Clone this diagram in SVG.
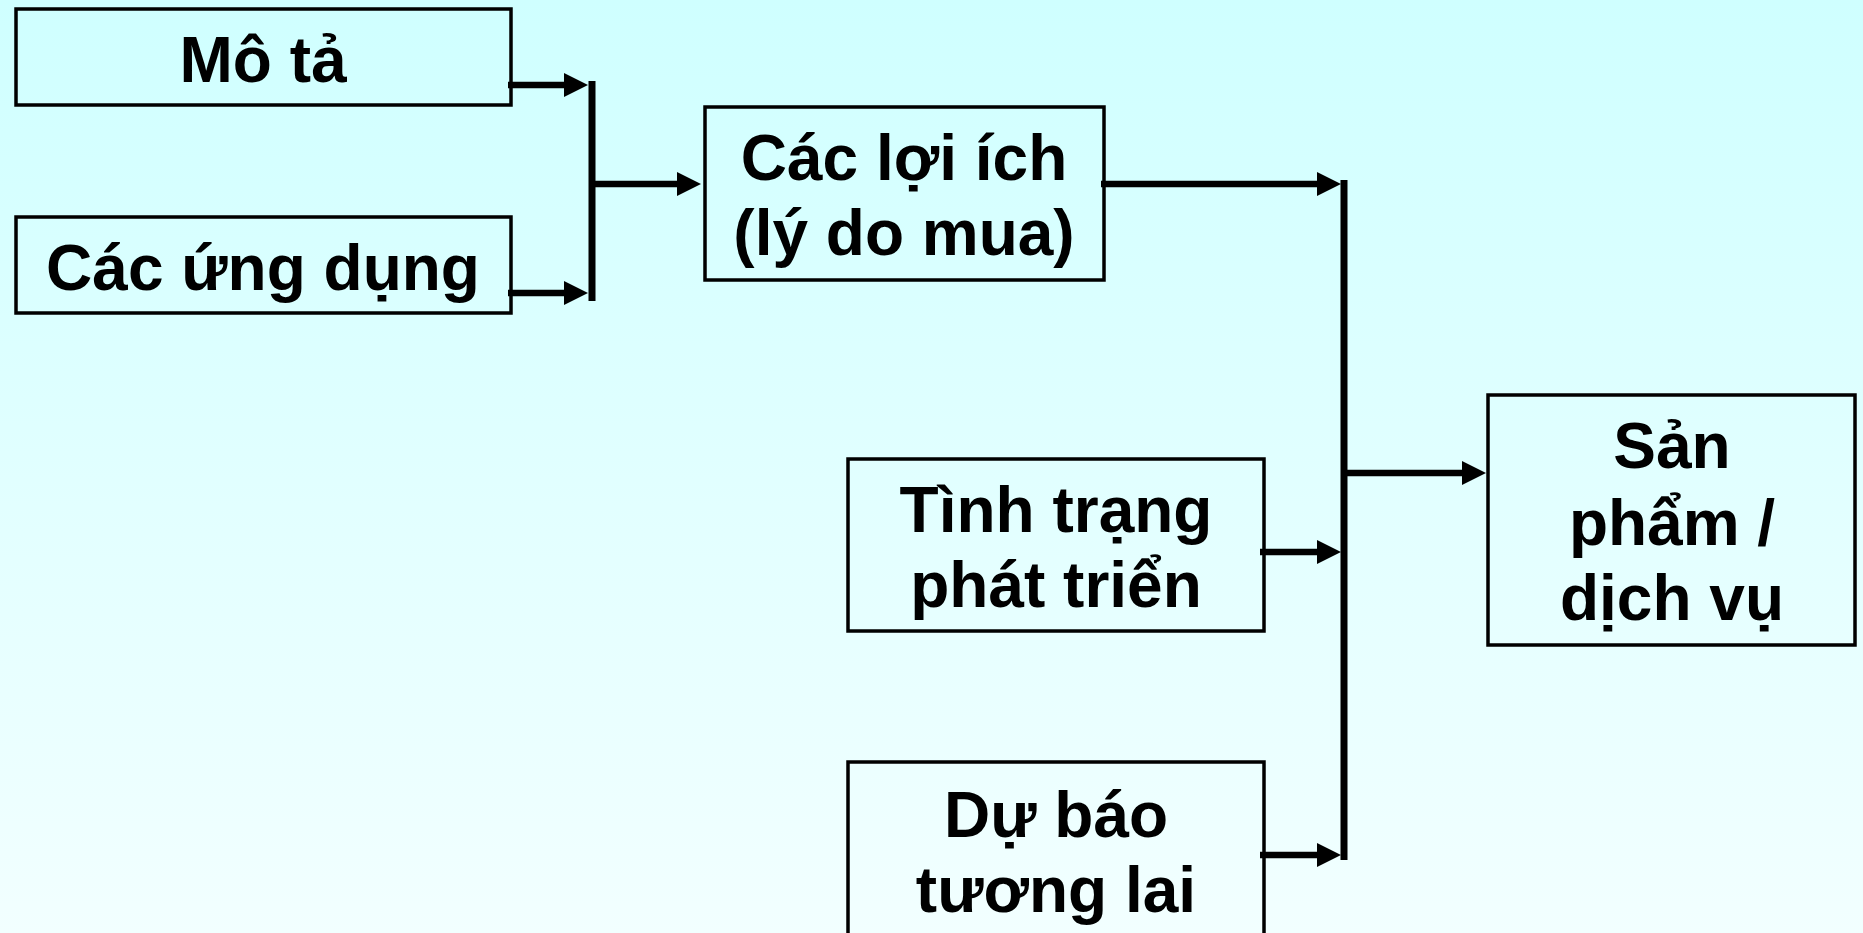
<svg xmlns="http://www.w3.org/2000/svg" width="1863" height="933" viewBox="0 0 1863 933">
<defs>
<linearGradient id="bg" x1="0" y1="0" x2="0" y2="1">
<stop offset="0" stop-color="#CFFFFF"/>
<stop offset="1" stop-color="#F2FFFF"/>
</linearGradient>
<marker id="ah" markerUnits="userSpaceOnUse" markerWidth="24" markerHeight="24" refX="12" refY="12" orient="auto">
<path d="M0,0 L24,12 L0,24 z" fill="#000"/>
</marker>
</defs>
<style>
.box{fill:none;stroke:#000;stroke-width:3.5}
.t{font-family:"Liberation Sans",Arial,sans-serif;font-weight:bold;font-size:64px;fill:#000;text-anchor:middle}
.c{fill:none;stroke:#000;stroke-width:7}
.a{fill:none;stroke:#000;stroke-width:6.5;marker-end:url(#ah)}
</style>
<rect x="0" y="0" width="1863" height="933" fill="url(#bg)"/>
<g id="n-mota">
<rect class="box" x="16" y="9" width="495" height="96"/>
<text class="t" x="263" y="82">Mô tả</text>
</g>
<g id="n-ungdung">
<rect class="box" x="16" y="217" width="495" height="96"/>
<text class="t" x="263" y="290">Các ứng dụng</text>
</g>
<g id="n-loiich">
<rect class="box" x="705" y="107" width="399" height="173"/>
<text class="t" x="904" y="180">Các lợi ích</text>
<text class="t" x="904" y="255">(lý do mua)</text>
</g>
<g id="n-tinhtrang">
<rect class="box" x="848" y="459" width="416" height="172"/>
<text class="t" x="1056" y="532">Tình trạng</text>
<text class="t" x="1056" y="607">phát triển</text>
</g>
<g id="n-dubao">
<rect class="box" x="848" y="762" width="416" height="200"/>
<text class="t" x="1056" y="837">Dự báo</text>
<text class="t" x="1056" y="912">tương lai</text>
</g>
<g id="n-sanpham">
<rect class="box" x="1488" y="395" width="367" height="250"/>
<text class="t" x="1672" y="468">Sản</text>
<text class="t" x="1672" y="545">phẩm /</text>
<text class="t" x="1672" y="620">dịch vụ</text>
</g>
<g id="connectors">
<line class="c" x1="592" y1="81" x2="592" y2="301"/>
<line class="a" x1="508" y1="85" x2="576" y2="85"/>
<line class="a" x1="508" y1="293" x2="576" y2="293"/>
<line class="a" x1="592" y1="184" x2="689" y2="184"/>
<line class="c" x1="1344" y1="180" x2="1344" y2="860"/>
<line class="a" x1="1101" y1="184" x2="1329" y2="184"/>
<line class="a" x1="1260" y1="552" x2="1329" y2="552"/>
<line class="a" x1="1260" y1="855" x2="1329" y2="855"/>
<line class="a" x1="1344" y1="473" x2="1474" y2="473"/>
</g>
</svg>
